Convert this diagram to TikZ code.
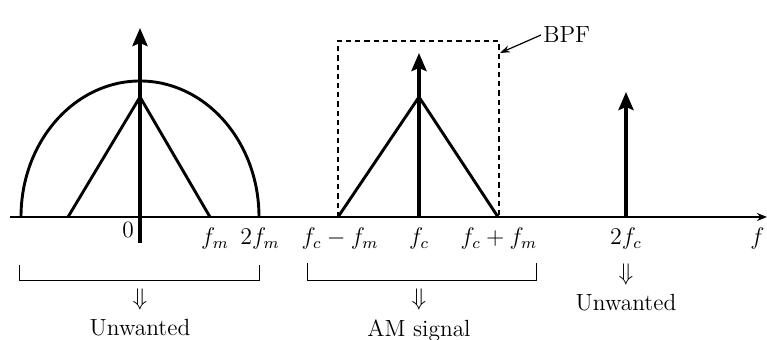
\documentclass[tikz,border=0pt]{standalone}
\usepackage{amsmath,amssymb}
\usepackage{tikz}
\usetikzlibrary{arrows.meta,positioning,calc}

\begin{document}
\begin{tikzpicture}[x=0.5pt,y=0.5pt,node distance=2pt,every node/.style={font=\fontsize{11.7}{14}\selectfont,inner sep=1pt},spike/.style={line width=1.9pt,-{Stealth[length=9pt,width=7.5pt,inset=1.5pt]}},trace/.style={line width=1.45pt,line join=miter},lbl/.style={anchor=base},brk/.style={line width=0.5pt}]
\useasboundingbox (0,-123) rectangle (767,217);
% frequency axis
\coordinate (ax0) at (10,0);
\coordinate (ax1) at (767,0);
\draw[line width=1.1pt,-{Stealth[length=5pt,width=4pt]}] (ax0)--(ax1);
% baseband part
\coordinate (dcLow) at (140,-26);
\coordinate (dcTop) at (140,189);
\draw[trace] (21,0) arc[start angle=180,end angle=0,x radius=119,y radius=136];
\draw[trace] (68,0)--(140,120)--(210,0);
\draw[spike] (dcLow)--(dcTop);
% AM part
\coordinate (fcBase) at (419,0);
\coordinate (fcTop) at (419,164);
\draw[trace] (338,0)--(419,120)--(498,0);
\draw[spike] (fcBase)--(fcTop);
\draw[line width=0.8pt,dash pattern=on 2.6pt off 2pt] (338,0)--(338,176)--(499,176)--(499,0);
\node[anchor=west] (bpf) at (541,182) {BPF};
\coordinate (bpfTip) at (500,164);
\draw[line width=0.6pt,-{Stealth[length=5pt,width=3.5pt]}] (bpf.west)--(bpfTip);
% carrier harmonic
\coordinate (hcBase) at (626,0);
\coordinate (hcTop) at (626,125);
\draw[spike] (hcBase)--(hcTop);
% axis labels
\node[lbl] (z0) at (128,-21) {0};
\node[lbl] (fm) at (215,-28) {$f_m$};
\node[lbl] (tfm) at (260,-28) {$2f_m$};
\node[lbl] (fcm) at (340,-28) {$f_c - f_m$};
\node[lbl] (fc) at (419,-28) {$f_c$};
\node[lbl] (fcp) at (499,-28) {$f_c + f_m$};
\node[lbl] (tfc) at (626,-28) {$2f_c$};
\node[anchor=base east] (ff) at (767,-28) {$f$};
% brackets
\draw[brk] (19,-48)--(19,-64)--(259,-64)--(259,-48);
\draw[brk] (307,-46)--(307,-64)--(536,-64)--(536,-46);
\node (dnA) at (140,-83) {$\Downarrow$};
\node[below=2pt of dnA] (uwA) {Unwanted};
\node (dnB) at (419,-83) {$\Downarrow$};
\node[below=2pt of dnB] (am) {AM signal};
\node (dnC) at (626,-58) {$\Downarrow$};
\node[below=2pt of dnC] (uwC) {Unwanted};
\end{tikzpicture}
\end{document}
